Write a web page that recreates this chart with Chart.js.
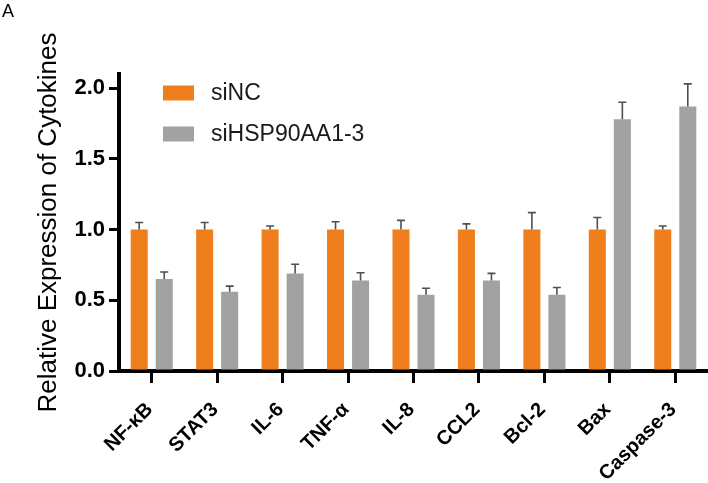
<!DOCTYPE html>
<html>
<head>
<meta charset="utf-8">
<script src="https://cdn.jsdelivr.net/npm/chart.js@4/dist/chart.umd.min.js"></script>
<style>
html,body{margin:0;padding:0;background:#fff;}
#wrap{width:708px;height:483px;position:relative;}
</style>
</head>
<body>
<div id="wrap"><canvas id="c" width="708" height="483"></canvas></div>
<script>
const categories = ['NF-κB','STAT3','IL-6','TNF-α','IL-8','CCL2','Bcl-2','Bax','Caspase-3'];
const siNCValues = [1.0,1.0,1.0,1.0,1.0,1.0,1.0,1.0,1.0];
const siNCErrors = [0.05,0.05,0.025,0.055,0.065,0.04,0.12,0.085,0.025];
const siHSPValues = [0.65,0.56,0.69,0.64,0.54,0.64,0.54,1.78,1.87];
const siHSPErrors = [0.05,0.04,0.065,0.055,0.045,0.05,0.05,0.12,0.16];
const yTicks = [0,0.5,1.0,1.5,2.0];
const seriesNames = ['siNC','siHSP90AA1-3'];
const yTitle = 'Relative Expression of Cytokines';
const panelLetter = 'A';

const FONT = "'Liberation Sans', Arial, Helvetica, sans-serif";
const ORANGE = '#EF7F1C';
const GRAY = '#A2A2A2';

const errorBars = {
  id: 'errorBars',
  afterDatasetsDraw(chart) {
    const ctx = chart.ctx, y = chart.scales.y;
    ctx.save();
    ctx.strokeStyle = '#505050';
    ctx.lineWidth = 1.6;
    chart.data.datasets.forEach((ds, i) => {
      const meta = chart.getDatasetMeta(i);
      meta.data.forEach((bar, j) => {
        const top = y.getPixelForValue(ds.data[j] + ds.errors[j]);
        ctx.beginPath();
        ctx.moveTo(bar.x, bar.y);
        ctx.lineTo(bar.x, top);
        ctx.moveTo(bar.x - 4, top);
        ctx.lineTo(bar.x + 4, top);
        ctx.stroke();
      });
    });
    ctx.restore();
  }
};

const customLegend = {
  id: 'customLegend',
  afterDraw(chart) {
    const ctx = chart.ctx, a = chart.chartArea;
    ctx.save();
    ctx.font = '23px ' + FONT;
    ctx.textBaseline = 'middle';
    ctx.textAlign = 'left';
    chart.data.datasets.forEach((ds, i) => {
      const cy = a.top + 19 + i * 41;
      ctx.fillStyle = ds.backgroundColor;
      ctx.fillRect(a.left + 44, cy - 7.5, 31, 15);
      ctx.fillStyle = '#1a1a1a';
      ctx.fillText(ds.label, a.left + 92, cy + 1);
    });
    ctx.font = '18px ' + FONT;
    ctx.fillStyle = '#000';
    ctx.textBaseline = 'top';
    ctx.fillText(panelLetter, 2, 3);
    ctx.restore();
  }
};

new Chart(document.getElementById('c'), {
  type: 'bar',
  data: {
    labels: categories,
    datasets: [
      {label: seriesNames[0], data: siNCValues, errors: siNCErrors, backgroundColor: ORANGE,
       categoryPercentage: 0.765, barPercentage: 0.68},
      {label: seriesNames[1], data: siHSPValues, errors: siHSPErrors, backgroundColor: GRAY,
       categoryPercentage: 0.765, barPercentage: 0.68}
    ]
  },
  options: {
    responsive: false,
    animation: false,
    devicePixelRatio: 1,
    layout: {padding: {top: 74, right: 0, left: 0, bottom: 0}},
    plugins: {legend: {display: false}, tooltip: {enabled: false}},
    scales: {
      x: {
        grid: {display: true, drawOnChartArea: false, drawTicks: true, offset: false,
               tickLength: 12, lineWidth: 3, color: '#000'},
        border: {display: true, width: 4, color: '#000'},
        ticks: {color: '#000', font: {family: FONT, size: 20, weight: 'bold'},
                minRotation: 45, maxRotation: 45, padding: 15, labelOffset: -2, autoSkip: false},
        afterFit(s) { s.height = 112; }
      },
      y: {
        min: 0, max: 2.1,
        afterBuildTicks(s) { s.ticks = yTicks.map(v => ({value: v})); },
        grid: {display: true, drawOnChartArea: false, drawTicks: true,
               tickLength: 10, lineWidth: 3, color: '#000'},
        border: {display: true, width: 4, color: '#000'},
        ticks: {color: '#000', font: {family: FONT, size: 22, weight: 'bold'}, padding: 4,
                callback: v => Number(v).toFixed(1)},
        title: {display: true, text: yTitle, color: '#000',
                font: {family: FONT, size: 26, weight: 'normal'}, padding: {top: 33, bottom: 0}},
        afterFit(s) { s.width = 119; }
      }
    }
  },
  plugins: [errorBars, customLegend]
});
</script>
</body>
</html>
